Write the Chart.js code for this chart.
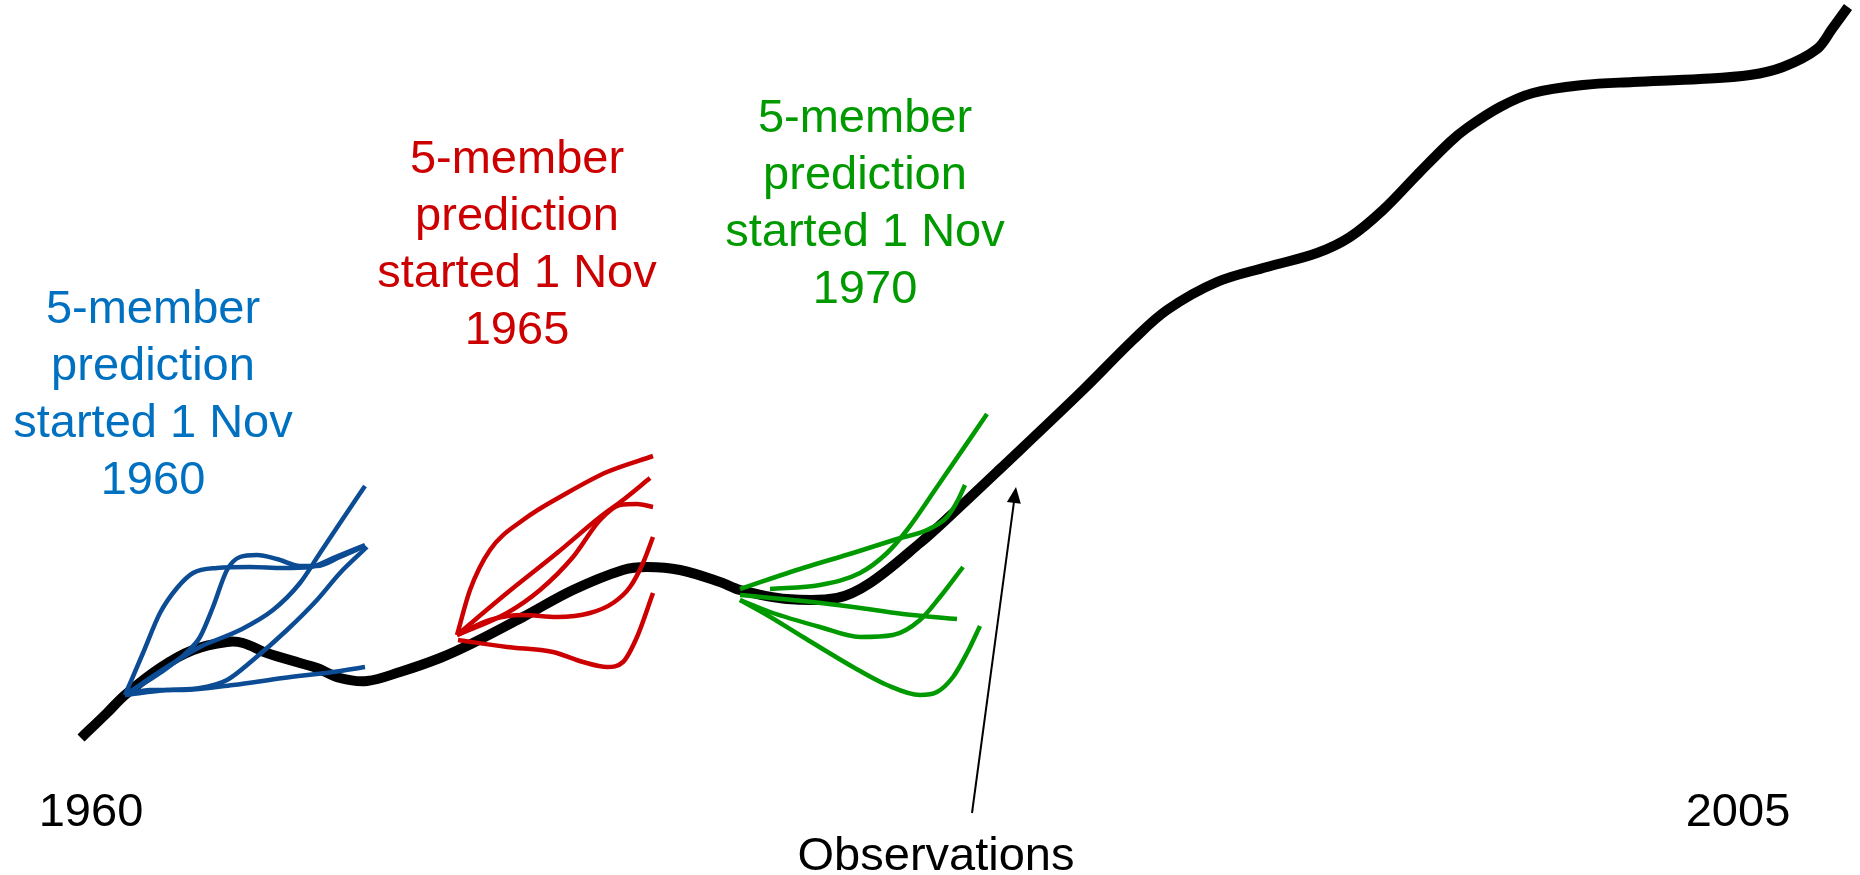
<!DOCTYPE html>
<html>
<head>
<meta charset="utf-8">
<script src="https://cdn.jsdelivr.net/npm/chart.js@4.4.0/dist/chart.umd.min.js"></script>
<style>
  html, body { margin: 0; padding: 0; background: #ffffff; }
  canvas { display: block; }
</style>
</head>
<body>
<canvas id="chart" width="1860" height="875"></canvas>
<script>
'use strict'

// observed curve (schematic units: time along x, anomaly along y)
const observations = [
  [8.1, 13.7], [10.7, 16.2], [12.5, 18.0], [16.0, 20.7], [19.3, 22.5], [22.7, 23.3],
  [24.3, 23.2], [26.7, 22.2], [30.0, 21.2], [31.7, 20.7], [34.0, 19.7], [36.7, 19.4],
  [40.0, 20.3], [44.0, 21.7], [47.3, 23.2], [52.3, 25.8], [57.3, 28.5], [62.3, 30.5],
  [64.7, 30.8], [68.0, 30.5], [72.0, 29.3], [74.0, 28.5], [78.7, 27.6], [83.7, 27.7],
  [87.0, 29.2], [92.0, 33.2], [95.0, 35.9], [100.0, 40.6], [108.3, 48.5], [113.3, 53.5],
  [116.7, 56.5], [121.7, 59.3], [126.7, 60.8], [131.7, 62.2], [135.0, 63.8], [138.3, 66.5],
  [141.7, 70.0], [145.0, 73.3], [146.7, 74.7], [150.0, 76.8], [153.3, 78.2], [158.3, 79.0],
  [163.3, 79.3], [170.0, 79.6], [175.0, 80.0], [178.3, 80.8], [181.7, 82.6], [183.2, 84.6],
  [184.8, 86.8]
]

// 1960 start, five members
const members1960 = [
  [[12.5, 18.0], [14.3, 22.2], [16.0, 26.2], [17.7, 28.7], [19.3, 30.2], [21.7, 30.7], [25.0, 30.8], [28.3, 30.7], [31.0, 30.8], [33.3, 31.7], [36.5, 33.0]],
  [[12.5, 18.0], [16.0, 20.2], [18.7, 22.3], [20.0, 23.8], [21.3, 26.8], [22.7, 30.5], [24.0, 31.8], [25.7, 32.0], [27.7, 31.6], [30.0, 30.9], [31.7, 30.9], [34.0, 31.8], [36.5, 32.9]],
  [[12.5, 18.0], [16.7, 20.8], [20.0, 22.8], [24.0, 24.5], [27.3, 26.5], [30.0, 29.2], [32.0, 32.2], [34.0, 35.2], [36.5, 38.9]],
  [[12.5, 18.0], [16.7, 18.5], [20.0, 18.7], [22.7, 19.5], [25.3, 21.5], [28.7, 24.5], [31.7, 27.5], [34.0, 30.2], [36.7, 32.8]],
  [[12.5, 18.0], [15.0, 18.5], [18.3, 18.5], [23.3, 19.0], [28.3, 19.7], [33.3, 20.3], [36.5, 20.8]]
]

// 1965 start
const members1965 = [
  [[45.7, 24.0], [47.0, 28.5], [49.0, 32.5], [52.3, 35.5], [56.7, 38.2], [60.7, 40.3], [65.3, 41.9]],
  [[45.7, 24.0], [50.7, 28.2], [55.7, 32.2], [60.0, 35.8], [62.3, 37.5], [65.0, 39.7]],
  [[45.7, 24.0], [50.7, 26.2], [54.0, 28.5], [57.3, 31.8], [60.0, 35.5], [62.0, 37.0], [63.7, 37.1], [65.3, 36.8]],
  [[45.7, 24.0], [49.0, 25.5], [52.3, 26.0], [55.7, 25.8], [59.0, 26.2], [61.3, 27.2], [63.0, 28.8], [64.3, 31.2], [65.3, 33.8]],
  [[45.8, 23.5], [50.7, 22.8], [55.3, 22.3], [58.3, 21.3], [60.7, 20.8], [62.3, 21.3], [63.7, 23.8], [65.3, 28.2]]
]

// 1970 start
const members1970 = [
  [[77.0, 28.6], [82.0, 29.0], [86.0, 30.2], [88.7, 32.2], [90.7, 34.5], [93.7, 38.8], [98.7, 46.1]],
  [[74.0, 28.6], [80.3, 30.7], [85.3, 32.2], [89.7, 33.6], [92.7, 34.5], [94.7, 35.8], [95.8, 37.5], [96.5, 39.0]],
  [[74.0, 28.0], [80.3, 27.4], [85.3, 26.8], [90.3, 26.1], [95.7, 25.6]],
  [[74.0, 27.5], [77.0, 26.3], [82.0, 24.8], [86.0, 23.8], [89.3, 24.0], [92.0, 25.5], [94.0, 27.8], [96.3, 30.8]],
  [[74.0, 27.5], [76.7, 26.0], [80.3, 23.8], [85.3, 20.8], [88.7, 19.0], [92.0, 18.0], [93.7, 18.3], [95.3, 19.8], [96.7, 22.2], [98.0, 24.9]]
]

const startLabels = ['1960', '1965', '1970']
const endLabels = ['1960', '2005']

;(() => {
  const font = '47px "Liberation Sans", Arial, sans-serif'
  const toPts = (arr) => arr.map(([x, y]) => ({ x, y }))

  function memberSets(list, color) {
    return list.map((m) => ({
      data: toPts(m),
      borderColor: color,
      borderWidth: 4.5,
      pointRadius: 0,
      showLine: true,
      cubicInterpolationMode: 'monotone',
      fill: false,
      clip: false,
      order: 0
    }))
  }

  const datasets = [
    ...memberSets(members1960, '#0b4c94'),
    ...memberSets(members1965, '#cc0000'),
    ...memberSets(members1970, '#009900'),
    {
      data: toPts(observations),
      borderColor: '#000000',
      borderWidth: 10,
      pointRadius: 0,
      showLine: true,
      tension: 0.35,
      fill: false,
      clip: false,
      order: 1
    }
  ]

  // text blocks and arrow, anchored in data units
  const notes = [
    { label: startLabels[0], color: '#0070c0', x: 15.3, y: 55.2 },
    { label: startLabels[1], color: '#cc0000', x: 51.7, y: 70.2 },
    { label: startLabels[2], color: '#009900', x: 86.5, y: 74.3 }
  ]

  const annotate = {
    id: 'annotate',
    afterDraw(chart) {
      const { ctx, scales } = chart
      const px = (v) => scales.x.getPixelForValue(v)
      const py = (v) => scales.y.getPixelForValue(v)
      ctx.save()
      ctx.font = font
      ctx.textAlign = 'center'
      ctx.textBaseline = 'alphabetic'

      notes.forEach((n) => {
        const lines = ['5-member', 'prediction', 'started 1 Nov', n.label]
        ctx.fillStyle = n.color
        lines.forEach((t, i) => ctx.fillText(t, px(n.x), py(n.y) + i * 57))
      })

      ctx.fillStyle = '#000000'
      ctx.fillText(endLabels[0], px(9.1), py(4.9))
      ctx.fillText(endLabels[1], px(173.8), py(4.9))
      ctx.fillText('Observations', px(93.6), py(0.5))

      // arrow
      const x0 = px(97.2), y0 = py(6.2)
      const x1 = px(101.6), y1 = py(38.8)
      const ang = Math.atan2(y1 - y0, x1 - x0)
      const head = 16
      ctx.strokeStyle = '#000000'
      ctx.lineWidth = 2
      ctx.beginPath()
      ctx.moveTo(x0, y0)
      ctx.lineTo(x1 - Math.cos(ang) * head * 0.8, y1 - Math.sin(ang) * head * 0.8)
      ctx.stroke()
      ctx.beginPath()
      ctx.moveTo(x1, y1)
      ctx.lineTo(x1 - head * Math.cos(ang) + 7 * Math.sin(ang), y1 - head * Math.sin(ang) - 7 * Math.cos(ang))
      ctx.lineTo(x1 - head * Math.cos(ang) - 7 * Math.sin(ang), y1 - head * Math.sin(ang) + 7 * Math.cos(ang))
      ctx.closePath()
      ctx.fill()
      ctx.restore()
    }
  }

  new Chart(document.getElementById('chart'), {
    type: 'scatter',
    data: { datasets },
    options: {
      responsive: false,
      animation: false,
      events: [],
      layout: { padding: 0 },
      plugins: {
        legend: { display: false },
        tooltip: { enabled: false }
      },
      scales: {
        x: { type: 'linear', min: 0, max: 186, display: false },
        y: { type: 'linear', min: 0, max: 87.5, display: false }
      }
    },
    plugins: [annotate]
  })
})()
</script>
</body>
</html>
